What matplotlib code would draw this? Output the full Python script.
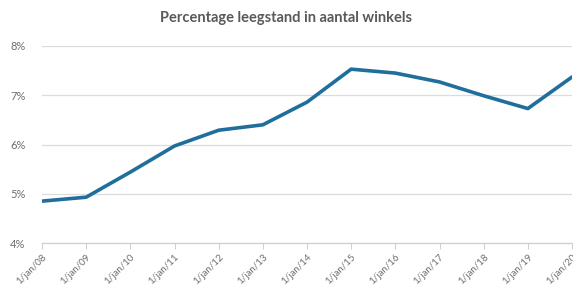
import matplotlib
matplotlib.use("Agg")
import matplotlib.pyplot as plt

labels = ["1/jan/08", "1/jan/09", "1/jan/10", "1/jan/11", "1/jan/12", "1/jan/13", "1/jan/14",
          "1/jan/15", "1/jan/16", "1/jan/17", "1/jan/18", "1/jan/19", "1/jan/20"]
values = [4.85, 4.93, 5.44, 5.97, 6.29, 6.40, 6.86, 7.53, 7.45, 7.27, 6.99, 6.73, 7.37]
yticks = [4, 5, 6, 7, 8]

plt.rcParams['font.family'] = ['Lato', 'DejaVu Sans']
fig = plt.figure(figsize=(5.73, 2.9), dpi=100)
ax = fig.add_axes([42/573, 1-243/290, 530/573, 197/290])
x = list(range(len(values)))
ax.plot(x, values, color='#1f6e9c', lw=2.6, solid_capstyle='round', solid_joinstyle='round', zorder=3)
ax.set_xlim(0, len(values)-1)
ax.set_ylim(4, 8)
ax.set_yticks(yticks)
ax.set_yticklabels([f"{v}%" for v in yticks])
ax.set_xticks(x)
ax.set_xticklabels(labels, rotation=45, ha='right', va='top', rotation_mode='anchor')
for s in ['top', 'right', 'left']:
    ax.spines[s].set_visible(False)
ax.spines['bottom'].set_color('#d0d0d0')
ax.spines['bottom'].set_linewidth(0.9)
ax.grid(axis='y', color='#dcdcdc', lw=0.9)
ax.set_axisbelow(True)
ax.tick_params(axis='y', length=0, pad=12, labelsize=8, labelcolor='#6e6e6e')
ax.tick_params(axis='x', length=4, color='#d0d0d0', pad=3, labelsize=7, labelcolor='#6e6e6e')
fig.text(0.5, 1-18/290, "Percentage leegstand in aantal winkels", ha='center', va='center',
         fontsize=10.5, fontweight='bold', color='#595959')
fig.savefig("out.png", dpi=100)
